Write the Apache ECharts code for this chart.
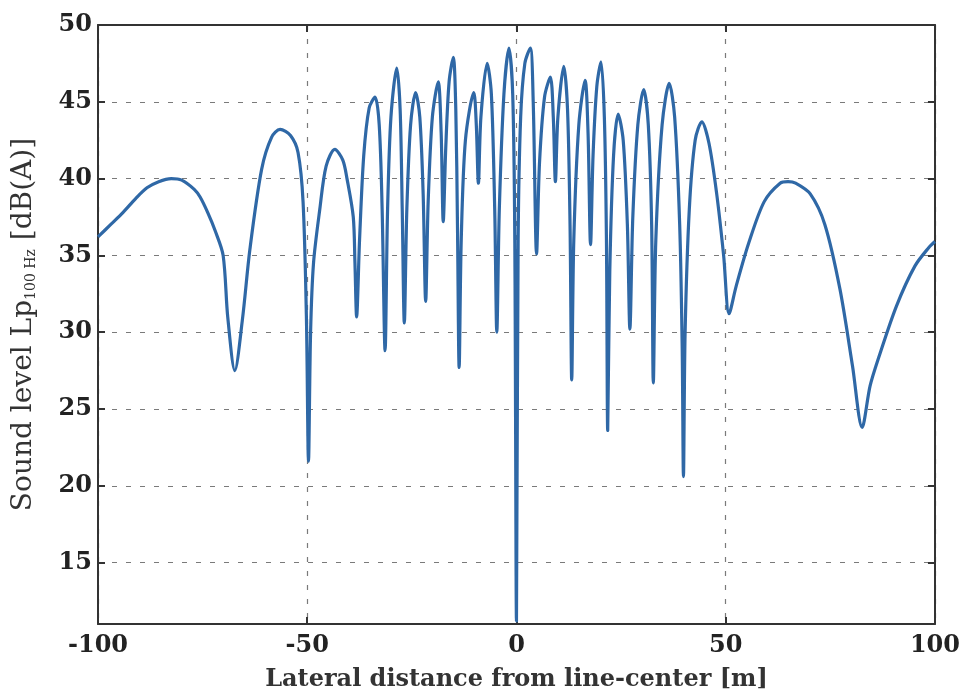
<!DOCTYPE html>
<html>
<head>
<meta charset="utf-8">
<script src="https://cdn.jsdelivr.net/npm/echarts@6/dist/echarts.min.js"></script>
<style>
  html, body { margin: 0; padding: 0; background: #fff; }
  #chart { width: 963px; height: 697px; }
</style>
</head>
<body>
<div id="chart"></div>
<script>
// lateral distance [m] (x) and sound level [dB(A)] (y)
var distance = [
  -100, -97, -94, -91, -88.3, -85.5, -82.5, -80, -77, -75.6, -73.8, -72, -70.1, -69, -67.3,
  -65.5, -63.7, -60.9, -58.5, -56.5, -54, -52.2, -51, -50.2, -49.7,
  -49.2, -48.5, -47, -45.5, -43.4, -41.5, -40.5, -39, -38.6, -38.2,
  -37.5, -36.5, -35.2, -33.8, -32.8, -32.1, -31.4,
  -30.8, -30.0, -28.6, -27.8, -27.3, -26.8,
  -26.2, -25.3, -24.1, -23.1, -22.3, -21.7,
  -21.1, -20.1, -18.7, -18.0, -17.5,
  -16.9, -16.1, -15.1, -14.5, -14.1, -13.7,
  -13.2, -12.2, -10.2, -9.6, -9.1,
  -8.5, -7.0, -6.0, -5.2, -4.7,
  -4.1, -3.0, -1.8, -0.9, -0.4, 0,
  0.4, 1.0, 2.0, 3.3, 4.0, 4.8,
  5.5, 6.7, 8.1, 8.8, 9.3,
  9.9, 11.3, 12.2, 12.8, 13.2,
  13.7, 14.9, 16.4, 17.1, 17.7,
  18.3, 19.2, 20.2, 21.0, 21.5, 21.8,
  22.3, 23.2, 24.3, 25.5, 26.5, 27.1,
  27.8, 29.0, 30.4, 31.5, 32.3, 32.7,
  33.3, 34.8, 36.5, 37.8, 39.0, 39.6, 39.9,
  40.3, 41.3, 42.7, 44.3, 46.0, 47.8, 49.5, 50.8,
  52.5, 55.5, 59.2, 63.0, 64.9, 66.7, 70.2, 73.7, 77.3, 80.3, 82.6,
  84.5, 86.5, 90.8, 95.2, 98.5, 100
]
var level = [
  36.2, 37.0, 37.8, 38.7, 39.4, 39.8, 40.0, 39.9, 39.3, 38.8, 37.8, 36.6, 35.0, 31.0, 27.5,
  30.8, 35.4, 40.6, 42.7, 43.2, 42.8, 41.7, 38.5, 31.0, 21.6,
  30.0, 34.5, 38.0, 40.8, 41.9, 41.2, 40.0, 37.5, 34.5, 31.0,
  36.0, 41.5, 44.6, 45.3, 43.5, 38.0, 28.8,
  38.0, 44.0, 47.2, 44.5, 38.0, 30.6,
  38.0, 43.5, 45.6, 44.0, 39.0, 32.0,
  38.5, 44.0, 46.3, 43.0, 37.2,
  42.0, 46.3, 47.9, 44.5, 37.0, 27.7,
  36.0, 42.5, 45.6, 43.5, 39.7,
  44.0, 47.5, 45.5, 38.0, 30.0,
  38.0, 45.5, 48.5, 45.5, 36.0, 11.2,
  36.0, 44.0, 47.5, 48.5, 45.0, 35.1,
  41.0, 45.3, 46.6, 44.0, 39.8,
  44.0, 47.3, 44.5, 37.0, 26.9,
  36.0, 43.5, 46.4, 43.0, 35.7,
  41.5, 46.0, 47.6, 44.0, 36.0, 23.6,
  34.0, 41.5, 44.2, 42.5, 37.0, 30.2,
  37.5, 43.5, 45.8, 43.5, 37.0, 26.7,
  36.0, 43.5, 46.2, 44.0, 37.0, 29.0, 20.6,
  30.0, 38.0, 42.5, 43.7, 42.3, 39.1, 35.0, 31.2,
  33.0, 35.8, 38.5, 39.7, 39.8, 39.7, 39.0, 37.0, 32.8, 27.8, 23.8,
  26.5, 28.3, 31.7, 34.3, 35.5, 35.9
]
var xTicks = [-100, -50, 0, 50, 100]
var yTicks = [15, 20, 25, 30, 35, 40, 45, 50]

var chart = echarts.init(document.getElementById('chart'))

var labelFont = {
  color: '#222',
  fontFamily: 'DejaVu Serif',
  fontWeight: 'bold',
  fontSize: 24
}
var gridDash = { color: '#7a7a7a', width: 1.2, type: [5, 9] }
var frameLine = { show: true, onZero: false, lineStyle: { color: '#333', width: 2 } }
var innerTick = { show: true, inside: true, length: 7, lineStyle: { color: '#333', width: 2 } }

var points = distance.map(function (d, i) { return [d, level[i]] })

chart.setOption({
  animation: false,
  backgroundColor: '#fff',
  grid: { left: 98, right: 28, top: 25, bottom: 65 },
  xAxis: [
    {
      type: 'value',
      min: -100,
      max: 100,
      interval: 50,
      axisLine: frameLine,
      axisTick: innerTick,
      axisLabel: Object.assign({ margin: 10, formatter: function (v) { return xTicks.indexOf(v) >= 0 ? v : '' } }, labelFont),
      splitLine: { show: true, lineStyle: gridDash },
      name: 'Lateral distance from line-center [m]',
      nameLocation: 'middle',
      nameGap: 44,
      nameTextStyle: { color: '#333', fontFamily: 'DejaVu Serif', fontWeight: 'bold', fontSize: 24 }
    },
    {
      type: 'value',
      position: 'top',
      min: -100,
      max: 100,
      interval: 50,
      axisLine: frameLine,
      axisTick: innerTick,
      axisLabel: { show: false },
      splitLine: { show: false }
    }
  ],
  yAxis: [
    {
      type: 'value',
      min: 11,
      max: 50,
      splitNumber: 8,
      axisLine: frameLine,
      axisTick: innerTick,
      axisLabel: Object.assign({ margin: 6, formatter: function (v) { return yTicks.indexOf(v) >= 0 ? v : '' } }, labelFont),
      splitLine: { show: true, lineStyle: gridDash },
      name: '{a|Sound level Lp}{b|100 Hz}{a| [dB(A)]}',
      nameLocation: 'middle',
      nameRotate: 90,
      nameGap: 60,
      nameTextStyle: {
        rich: {
          a: { color: '#333', fontFamily: 'DejaVu Serif', fontSize: 28, verticalAlign: 'bottom', lineHeight: 32 },
          b: { color: '#333', fontFamily: 'DejaVu Serif', fontSize: 14, verticalAlign: 'bottom', lineHeight: 26 }
        }
      }
    },
    {
      type: 'value',
      position: 'right',
      min: 11,
      max: 50,
      splitNumber: 8,
      axisLine: frameLine,
      axisTick: innerTick,
      axisLabel: { show: false },
      splitLine: { show: false }
    }
  ],
  series: [
    {
      type: 'line',
      data: points,
      showSymbol: false,
      symbol: 'none',
      smooth: 0.3,
      clip: true,
      lineStyle: { color: '#2f68a6', width: 3.2, join: 'round' }
    }
  ]
})
</script>
</body>
</html>
